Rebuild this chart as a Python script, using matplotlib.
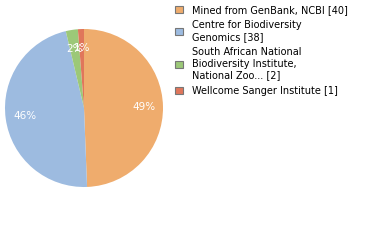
import matplotlib.pyplot as plt
from matplotlib.patches import Patch

# data
labels = [
    "Mined from GenBank, NCBI [40]",
    "Centre for Biodiversity\nGenomics [38]",
    "South African National\nBiodiversity Institute,\nNational Zoo... [2]",
    "Wellcome Sanger Institute [1]",
]
counts = [40, 38, 2, 1]
pct_labels = ["49%", "46%", "2%", "1%"]
colors = ["#EFAC6D", "#9DBBE0", "#9CC878", "#E0765B"]

fig = plt.figure(figsize=(3.8, 2.4), dpi=100)
ax = fig.add_axes([(84 - 79) / 380, (240 - 108 - 79) / 240, 158 / 380, 158 / 240])

pct_iter = iter(pct_labels)
wedges, texts, autotexts = ax.pie(
    counts,
    colors=colors,
    startangle=90,
    counterclock=False,
    autopct=lambda p: next(pct_iter),
    pctdistance=0.76,
    radius=1.0,
    textprops={"color": "white", "fontsize": 7.5},
)
ax.set_xlim(-1, 1)
ax.set_ylim(-1, 1)
ax.set_aspect("equal")

handles = [Patch(facecolor=c, edgecolor="#777777", linewidth=0.8) for c in colors]
fig.legend(
    handles,
    labels,
    loc="upper left",
    bbox_to_anchor=(171 / 380, 1 - 1 / 240),
    frameon=False,
    fontsize=7,
    handlelength=0.8,
    handleheight=0.8,
    handletextpad=0.95,
    labelspacing=0.55,
    borderaxespad=0,
)

fig.savefig("out.png", dpi=100)
